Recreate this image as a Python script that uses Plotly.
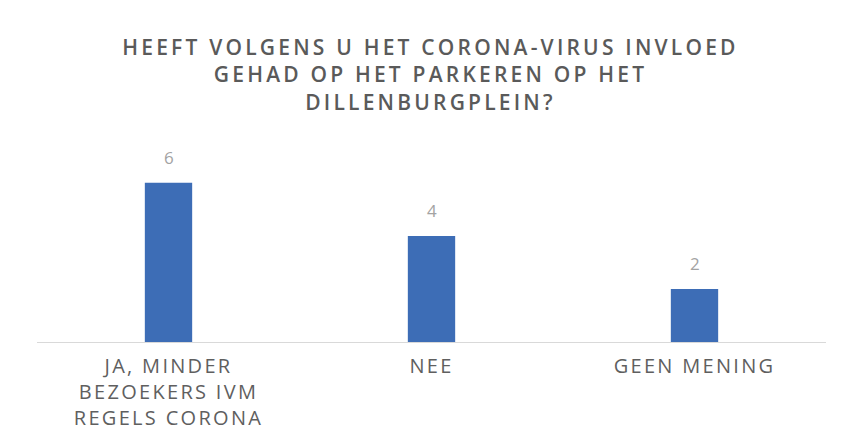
import plotly.graph_objects as go

categories = ["JA, MINDER<br>BEZOEKERS IVM<br>REGELS CORONA", "NEE", "GEEN MENING"]
values = [6, 4, 2]
title_text = "HEEFT VOLGENS U HET CORONA-VIRUS INVLOED<br>GEHAD OP HET PARKEREN OP HET<br>DILLENBURGPLEIN?"

fig = go.Figure()
fig.add_trace(go.Bar(
    x=categories, y=values, width=0.18,
    marker=dict(color="#3d6db6", line=dict(width=0)),
))
for c, v in zip(categories, values):
    fig.add_annotation(x=c, y=v, text=str(v), showarrow=False, yshift=25,
                       font=dict(family="Open Sans", size=17, color="#a3a3a3"))

fig.update_layout(
    width=845, height=441,
    paper_bgcolor="white", plot_bgcolor="white",
    margin=dict(l=29, r=27, t=143, b=107),
    showlegend=False,
    title=dict(text=title_text, x=0.5, xanchor="center", y=0.893, yanchor="top",
               font=dict(family="Open Sans", size=21, color="#5a5a5a", weight=600)),
    xaxis=dict(showline=True, linecolor="#d9d9d9", linewidth=1, ticks="",
               tickfont=dict(family="Open Sans", size=20, color="#5f5f5f"),
               ticklabelstandoff=6,
               showgrid=False, zeroline=False),
    yaxis=dict(range=[0, 7.2], visible=False, showgrid=False, zeroline=False),
)

post = """
var gd = document.getElementById('{plot_id}');
function sp(){
  gd.querySelectorAll('.gtitle').forEach(function(e){ e.style.letterSpacing='3.2px'; });
  gd.querySelectorAll('.xtick text').forEach(function(e){ e.style.letterSpacing='2.3px'; });
}
sp();
gd.on('plotly_afterplot', sp);
"""
fig.write_html("out.html", post_script=post)
